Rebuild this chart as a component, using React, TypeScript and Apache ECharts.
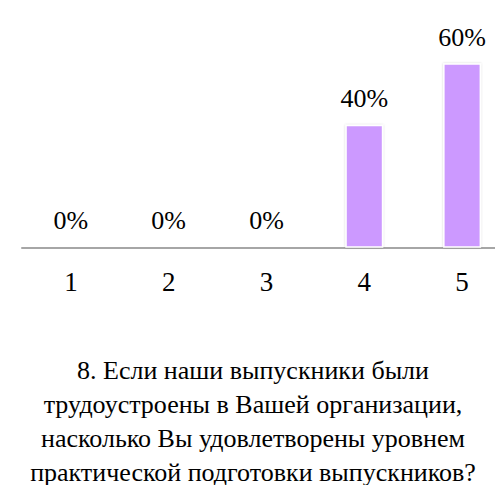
import React, { useEffect, useRef } from "react";
import * as echarts from "echarts";

const categories = ["1", "2", "3", "4", "5"];
const values = [0, 0, 0, 40, 60];
const titleLines = [
  "8. Если наши выпускники были",
  "трудоустроены в Вашей организации,",
  "насколько Вы удовлетворены уровнем",
  "практической подготовки выпускников?",
];

const FONT = "Liberation Serif";

export default function App() {
  const ref = useRef<HTMLDivElement>(null);
  useEffect(() => {
    if (!ref.current) return;
    const chart = echarts.init(ref.current, null, { renderer: "svg" });
    chart.setOption({
      animation: false,
      backgroundColor: "#ffffff",
      graphic: [
        {
          type: "text",
          x: 253,
          y: 353,
          style: {
            text: titleLines.join("\n"),
            align: "center",
            verticalAlign: "top",
            fontFamily: FONT,
            fontSize: 26,
            lineHeight: 34,
            fill: "#000",
          },
        },
      ],
      grid: { left: 22, right: 0, top: 63.3, bottom: 237.3 },
      xAxis: {
        type: "category",
        data: categories,
        axisLine: { show: true, lineStyle: { color: "#a6a6a6", width: 2 } },
        axisTick: { show: false },
        axisLabel: {
          fontFamily: FONT,
          fontSize: 27,
          color: "#000",
          margin: 21,
        },
      },
      yAxis: {
        type: "value",
        min: 0,
        max: 60,
        show: false,
        splitLine: { show: false },
      },
      series: [
        {
          type: "bar",
          data: values,
          barWidth: 38,
          itemStyle: {
            color: "#cc99ff",
            borderColor: "#ffffff",
            borderWidth: 1.5,
            shadowColor: "rgba(0,0,0,0.18)",
            shadowBlur: 2,
          },
          label: {
            show: true,
            position: "top",
            distance: 13,
            formatter: "{c}%",
            fontFamily: FONT,
            fontSize: 26,
            color: "#000",
          },
        },
      ],
    });
    return () => chart.dispose();
  }, []);
  return (
    <div
      style={{
        position: "fixed",
        left: 0,
        top: 0,
        width: 495,
        height: 485,
        overflow: "hidden",
        background: "#fff",
      }}
    >
      <div ref={ref} style={{ width: 511, height: 485 }} />
    </div>
  );
}
